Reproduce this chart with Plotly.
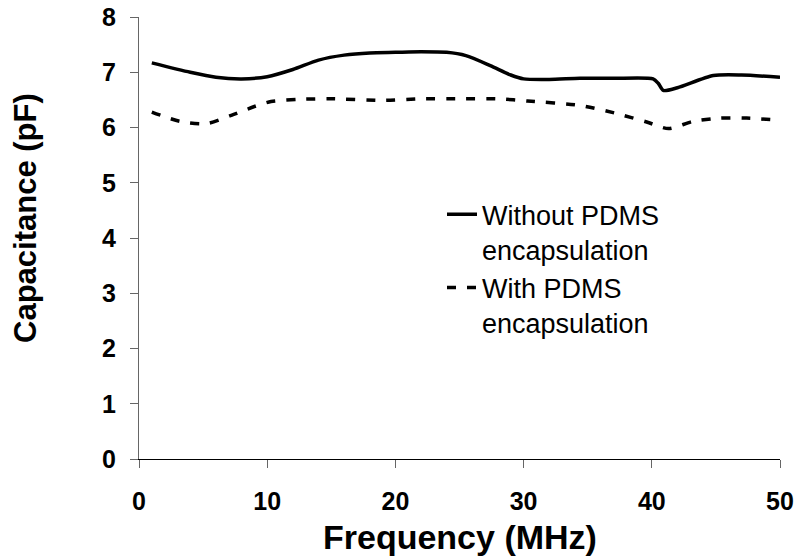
import plotly.graph_objects as go

freq_solid = [1, 4, 6, 8, 10, 12, 14, 16, 18, 20, 22, 24, 25.5, 27.4, 29, 30, 32, 34.4, 37, 40.1, 40.5, 40.9, 42, 44.8, 47, 50]
cap_without = [7.17, 7.0, 6.91, 6.88, 6.92, 7.05, 7.22, 7.31, 7.35, 7.36, 7.37, 7.36, 7.3, 7.12, 6.95, 6.88, 6.87, 6.89, 6.89, 6.88, 6.8, 6.67, 6.72, 6.94, 6.95, 6.91]

freq_dash = [1, 3.2, 5.3, 7.2, 9, 10.3, 12.5, 15, 19, 22, 25, 28, 30.3, 34.4, 37.3, 39.6, 41.3, 43.2, 45.3, 47.4, 50]
cap_with = [6.28, 6.11, 6.07, 6.22, 6.38, 6.47, 6.51, 6.52, 6.49, 6.52, 6.52, 6.52, 6.48, 6.40, 6.25, 6.10, 5.98, 6.11, 6.17, 6.17, 6.13]

x_ticks = [0, 10, 20, 30, 40, 50]
y_ticks = [0, 1, 2, 3, 4, 5, 6, 7, 8]

FONT = "Liberation Sans, Arial, sans-serif"

fig = go.Figure()
fig.add_trace(go.Scatter(
    x=freq_solid, y=cap_without, mode="lines",
    name="Without PDMS<br>encapsulation",
    line=dict(color="black", width=3.5, shape="spline", smoothing=0.7),
))
fig.add_trace(go.Scatter(
    x=freq_dash, y=cap_with, mode="lines",
    name="With PDMS<br>encapsulation",
    line=dict(color="black", width=3.5, dash="9px,11px", shape="spline", smoothing=0.7),
))

fig.update_layout(
    width=798, height=559,
    margin=dict(l=139, r=18, t=17, b=100, autoexpand=False),
    paper_bgcolor="white", plot_bgcolor="white",
    font=dict(family=FONT, color="black"),
    showlegend=True,
    legend=dict(
        x=0.4727, y=0.608, xanchor="left", yanchor="top",
        font=dict(size=27, color="black", family=FONT),
        bgcolor="rgba(0,0,0,0)",
        valign="top",
        tracegroupgap=0,
    ),
    xaxis=dict(
        range=[0, 50], tickvals=x_ticks, ticks="outside", ticklen=8,
        tickcolor="#666", showline=True, linecolor="black", linewidth=1.3,
        showgrid=False, zeroline=False, automargin=False,
        tickfont=dict(size=25, weight="bold", family=FONT),
        ticklabelstandoff=12, ticklabeloverflow="allow",
    ),
    yaxis=dict(
        range=[0, 8], tickvals=y_ticks, ticks="outside", ticklen=8,
        tickcolor="#666", showline=True, linecolor="#666", linewidth=1.2,
        showgrid=False, zeroline=False, automargin=False,
        tickfont=dict(size=25, weight="bold", family=FONT),
        ticklabelstandoff=9, ticklabeloverflow="allow",
    ),
    annotations=[
        dict(text="Frequency (MHz)", xref="paper", yref="paper",
             x=(460 - 139) / 641, y=(459 - 537) / 442,
             xanchor="center", yanchor="middle", showarrow=False,
             font=dict(size=34, weight="bold", family=FONT)),
        dict(text="Capacitance (pF)", xref="paper", yref="paper",
             x=(25 - 139) / 641, y=(459 - 218) / 442, textangle=-90,
             xanchor="center", yanchor="middle", showarrow=False,
             font=dict(size=31, weight="bold", family=FONT)),
    ],
)

fig.write_html(
    "out.html",
    config={"displayModeBar": False},
    post_script="document.body.style.margin='0';document.body.style.overflow='hidden';",
)
